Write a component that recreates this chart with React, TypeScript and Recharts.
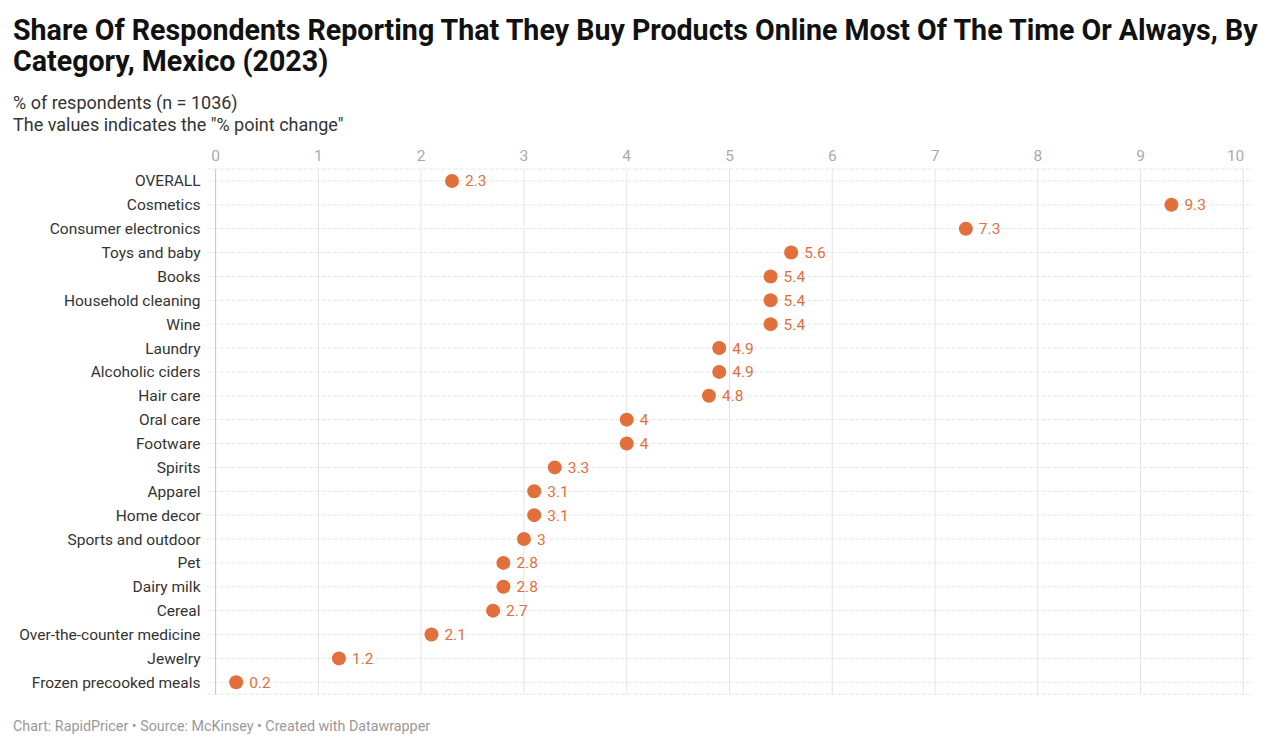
import { CartesianGrid, ReferenceLine, Scatter, ScatterChart, XAxis, YAxis } from "recharts"

const categories = [
  "OVERALL",
  "Cosmetics",
  "Consumer electronics",
  "Toys and baby",
  "Books",
  "Household cleaning",
  "Wine",
  "Laundry",
  "Alcoholic ciders",
  "Hair care",
  "Oral care",
  "Footware",
  "Spirits",
  "Apparel",
  "Home decor",
  "Sports and outdoor",
  "Pet",
  "Dairy milk",
  "Cereal",
  "Over-the-counter medicine",
  "Jewelry",
  "Frozen precooked meals",
]

const pointChange = [
  2.3, 9.3, 7.3, 5.6, 5.4, 5.4, 5.4, 4.9, 4.9, 4.8, 4, 4, 3.3, 3.1, 3.1, 3, 2.8, 2.8, 2.7, 2.1, 1.2, 0.2,
]

const xTicks = [0, 1, 2, 3, 4, 5, 6, 7, 8, 9, 10]

const ORANGE = "#e2703c"
const FONT = "Roboto, 'Noto Sans', sans-serif"

const rows = categories.map((name, i) => ({ name, value: pointChange[i] }))

function XTick({ x, payload }: any) {
  // last tick label sits flush right against its gridline
  const last = payload.value === xTicks[xTicks.length - 1]
  return (
    <text
      x={last ? x + 1 : x}
      y={161}
      textAnchor={last ? "end" : "middle"}
      fill="#aaaaaa"
      fontSize={15.5}
      fontFamily={FONT}
    >
      {payload.value}
    </text>
  )
}

function YTick({ y, payload }: any) {
  return (
    <text x={200.5} y={y} dy={5.5} textAnchor="end" fill="#333333" fontSize={15.5} fontFamily={FONT}>
      {payload.value}
    </text>
  )
}

function Dot({ cx, cy, payload }: any) {
  return (
    <g>
      <circle cx={cx} cy={cy} r={7} fill={ORANGE} />
      <text x={cx + 13} y={cy} dy={5.5} fill={ORANGE} fontSize={15.5} fontFamily={FONT}>
        {payload.value}
      </text>
    </g>
  )
}

export default function App() {
  return (
    <div
      style={{
        position: "absolute",
        top: 0,
        left: 0,
        width: 1280,
        height: 749,
        background: "#fff",
        fontFamily: FONT,
        overflow: "hidden",
      }}
    >
      <div
        style={{
          position: "absolute",
          left: 13,
          top: 15,
          width: 1262,
          fontSize: 28.6,
          fontWeight: 700,
          lineHeight: "31px",
          color: "#111",
        }}
      >
        Share Of Respondents Reporting That They Buy Products Online Most Of The Time Or Always, By Category, Mexico
        (2023)
      </div>
      <div
        style={{ position: "absolute", left: 13, top: 92, fontSize: 18, lineHeight: "22px", color: "#333" }}
      >
        <div>% of respondents (n = 1036)</div>
        <div>The values indicates the "% point change"</div>
      </div>
      <div style={{ position: "absolute", left: 13, top: 718, fontSize: 14.3, color: "#999" }}>
        Chart: RapidPricer • Source: McKinsey • Created with Datawrapper
      </div>
      <div style={{ position: "absolute", left: 0, top: 0 }}>
        <ScatterChart width={1280} height={749} margin={{ top: 140, right: 27.4, bottom: 54.8, left: 0 }}>
          <CartesianGrid vertical={false} stroke="#e6e6e6" strokeDasharray="4 2" />
          <XAxis
            type="number"
            dataKey="value"
            orientation="top"
            domain={[-0.08, 10.09]}
            ticks={xTicks}
            allowDataOverflow
            height={29}
            axisLine={false}
            tickLine={false}
            tick={<XTick />}
            interval={0}
          />
          <YAxis
            type="category"
            dataKey="name"
            width={207.4}
            reversed
            axisLine={false}
            tickLine={false}
            tick={<YTick />}
            interval={0}
            allowDuplicatedCategory={false}
          />
          {xTicks.slice(1).map((t) => (
            <ReferenceLine key={t} x={t} stroke="#e4e4e4" strokeWidth={1} />
          ))}
          <ReferenceLine x={0} stroke="#c4c4c4" strokeWidth={1} />
          <Scatter data={rows} shape={<Dot />} isAnimationActive={false} />
        </ScatterChart>
      </div>
    </div>
  )
}
